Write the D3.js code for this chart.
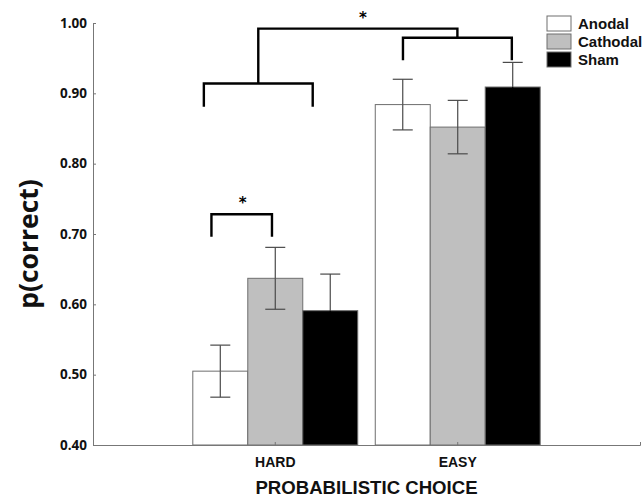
<!DOCTYPE html>
<html>
<head>
<meta charset="utf-8">
<script src="https://cdn.jsdelivr.net/npm/d3@7"></script>
<style>
  html, body { margin: 0; padding: 0; background: #fff; }
  svg { display: block; }
</style>
</head>
<body>
<svg id="chart" width="644" height="498"></svg>
<script>
// ---- data ----
const categories = ["HARD", "EASY"];
const seriesNames = ["Anodal", "Cathodal", "Sham"];
const anodal   = [0.505, 0.884];
const cathodal = [0.637, 0.852];
const sham     = [0.591, 0.909];
const anodalErr   = [0.037, 0.036];
const cathodalErr = [0.044, 0.038];
const shamErr     = [0.052, 0.035];
const yTicks = [0.40, 0.50, 0.60, 0.70, 0.80, 0.90, 1.00];
const yLabel = "p(correct)";
const xLabel = "PROBABILISTIC CHOICE";
const starLabel = "*";

// ---- styling ----
const fills = ["#ffffff", "#bfbfbf", "#000000"];
const W = 644, H = 498;
const m = { left: 93, right: 4, top: 23, bottom: 53 };

const svg = d3.select("#chart");
const x0 = d3.scaleBand().domain(categories)
  .range([m.left, W - m.right]).paddingInner(0.096).paddingOuter(0.547);
const x1 = d3.scaleBand().domain(seriesNames).range([0, x0.bandwidth()]).padding(0);
const y = d3.scaleLinear().domain([0.40, 1.00]).range([H - m.bottom, m.top]);

const values = [anodal, cathodal, sham];
const errs = [anodalErr, cathodalErr, shamErr];
const rows = [];
categories.forEach((c, ci) => seriesNames.forEach((s, si) => {
  rows.push({ cat: c, ser: s, si, v: values[si][ci], e: errs[si][ci] });
}));

// bars
svg.append("g").selectAll("rect").data(rows).join("rect")
  .attr("x", d => x0(d.cat) + x1(d.ser))
  .attr("y", d => y(d.v))
  .attr("width", x1.bandwidth())
  .attr("height", d => y(0.40) - y(d.v))
  .attr("fill", d => fills[d.si])
  .attr("stroke", "#6e6e6e")
  .attr("stroke-width", 1);

// error bars
const eg = svg.append("g").attr("stroke-width", 1.2);
rows.forEach(d => {
  const cx = x0(d.cat) + x1(d.ser) + x1.bandwidth() / 2;
  const cap = 10;
  eg.append("line").attr("x1", cx).attr("x2", cx)
    .attr("y1", y(d.v)).attr("y2", y(d.v + d.e)).attr("stroke", "#4a4a4a");
  eg.append("line").attr("x1", cx).attr("x2", cx)
    .attr("y1", y(d.v)).attr("y2", y(d.v - d.e))
    .attr("stroke", d.si === 2 ? "#000" : "#4a4a4a");
  eg.append("line").attr("x1", cx - cap).attr("x2", cx + cap)
    .attr("y1", y(d.v + d.e)).attr("y2", y(d.v + d.e)).attr("stroke", "#4a4a4a");
  eg.append("line").attr("x1", cx - cap).attr("x2", cx + cap)
    .attr("y1", y(d.v - d.e)).attr("y2", y(d.v - d.e))
    .attr("stroke", d.si === 2 ? "#000" : "#4a4a4a");
});

// axes
const yAxis = svg.append("g").attr("transform", `translate(${m.left},0)`)
  .call(d3.axisLeft(y).tickValues(yTicks).tickFormat(d3.format(".2f"))
    .tickSizeInner(-3).tickSizeOuter(0).tickPadding(6));
yAxis.select(".domain").attr("stroke", "#777");
yAxis.selectAll(".tick line").attr("stroke", "#777");
yAxis.selectAll("text").attr("font-family", "'Open Sans', sans-serif")
  .attr("font-weight", "bold").attr("font-size", 13.5).attr("fill", "#111");

const xAxis = svg.append("g").attr("transform", `translate(0,${y(0.40)})`)
  .call(d3.axisBottom(x0).tickSizeInner(-3).tickSizeOuter(-3).tickPadding(12));
xAxis.select(".domain").attr("stroke", "#777");
xAxis.selectAll(".tick line").attr("stroke", "#777");
xAxis.selectAll("text").attr("font-family", "'Liberation Sans', Arial, sans-serif")
  .attr("font-weight", "bold").attr("font-size", 14).attr("fill", "#111");

// axis titles
svg.append("text")
  .attr("transform", `translate(28,${(m.top + H - m.bottom) / 2 + 10}) rotate(-90)`)
  .attr("text-anchor", "middle").attr("dominant-baseline", "central")
  .attr("font-family", "'Open Sans', sans-serif").attr("font-weight", "bold")
  .attr("font-size", 26.5).attr("fill", "#111").text(yLabel);
svg.append("text")
  .attr("x", (m.left + W - m.right) / 2).attr("y", 494)
  .attr("text-anchor", "middle")
  .attr("font-family", "'Liberation Sans', Arial, sans-serif").attr("font-weight", "bold")
  .attr("font-size", 18.6).attr("fill", "#111").text(xLabel);

// legend
const lg = svg.append("g");
seriesNames.forEach((s, i) => {
  const yy = 16 + i * 18;
  lg.append("rect").attr("x", 547).attr("y", yy).attr("width", 24).attr("height", 15)
    .attr("fill", fills[i]).attr("stroke", "#6e6e6e").attr("stroke-width", 1);
  lg.append("text").attr("x", 578).attr("y", yy + 12.5)
    .attr("font-family", "'Liberation Sans', Arial, sans-serif").attr("font-weight", "bold")
    .attr("font-size", 15).attr("fill", "#111").text(s);
});

// significance brackets
const bx = (cat, f) => x0(cat) + f * x0.bandwidth();
const bg = svg.append("g").attr("fill", "none").attr("stroke", "#000")
  .attr("stroke-width", 2.4);
function bracket(xa, xb, yTop, yLeg) {
  bg.append("path").attr("d",
    `M${xa},${y(yLeg)}V${y(yTop)}H${xb}V${y(yLeg)}`);
}
// HARD across
const hA = bx("HARD", 0.067), hB = bx("HARD", 0.727);
bracket(hA, hB, 0.914, 0.881);
// EASY across
const eA = bx("EASY", 0.168), eB = bx("EASY", 0.828);
bracket(eA, eB, 0.979, 0.947);
// main bracket connecting both
bg.append("path").attr("d",
  `M${(hA + hB) / 2},${y(0.914)}V${y(0.992)}H${(eA + eB) / 2}V${y(0.979)}`);
// HARD anodal vs cathodal
const sA = bx("HARD", 0.113), sB = bx("HARD", 0.48);
bracket(sA, sB, 0.728, 0.696);

const starStyle = t => t.attr("text-anchor", "middle")
  .attr("font-family", "'DejaVu Sans', sans-serif").attr("font-size", 15)
  .attr("font-weight", "bold").attr("fill", "#000").text(starLabel);
svg.append("text").attr("x", 363).attr("y", 23).call(starStyle);
svg.append("text").attr("x", (sA + sB) / 2 + 1).attr("y", 208).call(starStyle);
</script>
</body>
</html>
